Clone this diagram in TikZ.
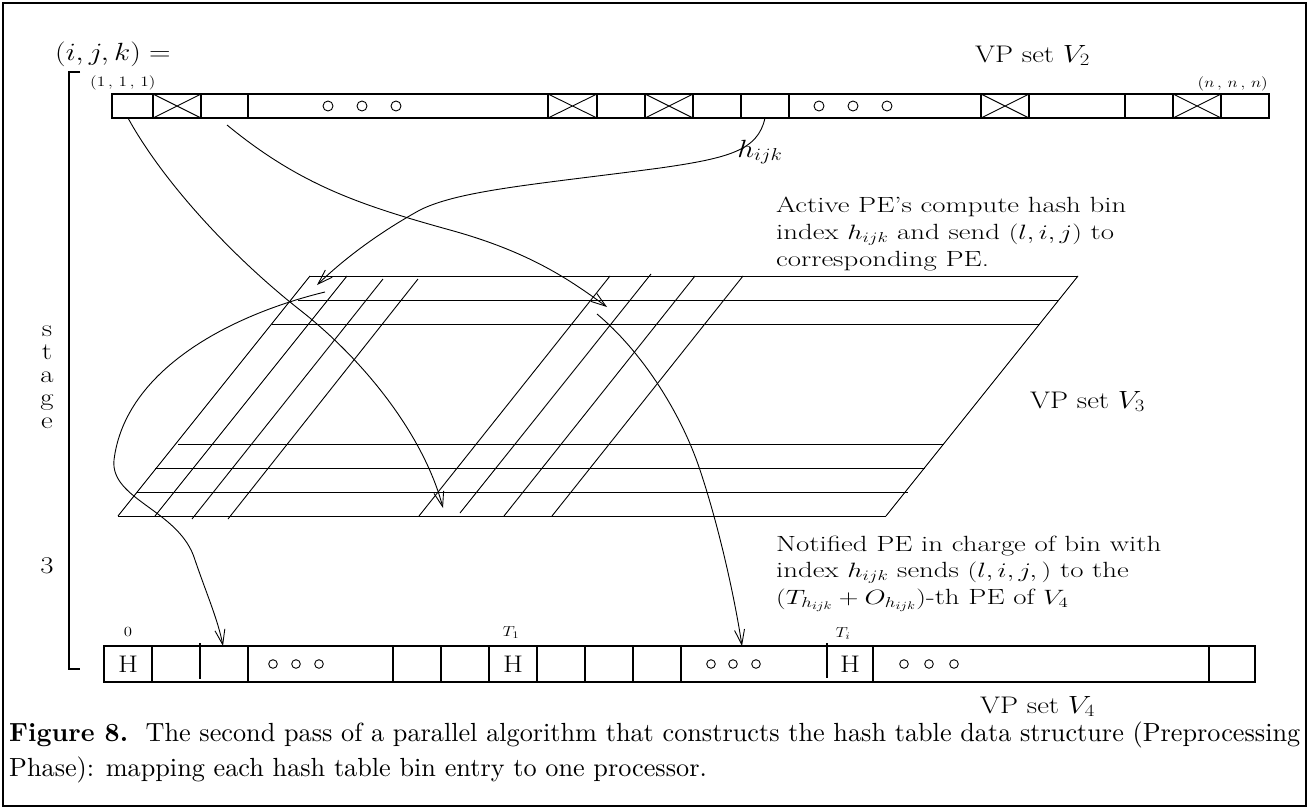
\documentclass[tikz,border=0pt]{standalone}
\usepackage{graphicx}
\usetikzlibrary{arrows.meta}
\newcommand{\wideT}[1]{\scalebox{1.2}[1]{#1}}
\newcommand{\wideB}[1]{\scalebox{1.31}[1]{#1}}
\begin{document}
\begin{tikzpicture}[x=1pt,y=-1pt,
  ln/.style={line width=0.9pt},
  barln/.style={line width=1.2pt},
  arr/.style={line width=0.9pt,-{Straight Barb[length=15pt,width=10pt,line width=0.9pt]}},
  txt/.style={inner sep=0pt,font=\fontsize{24}{25}\selectfont},
  blk/.style={inner sep=0pt,font=\fontsize{22}{25}\selectfont,anchor=base west},
  smalltxt/.style={inner sep=0pt,font=\fontsize{14}{15}\selectfont},
  dot/.style={line width=0.9pt}]
\useasboundingbox (0,0) rectangle (1309,809);
\draw[line width=2.2pt] (3,3) rectangle (1306,806);

% ---------- top labels
\node[txt,anchor=base west] (ijk) at (55,60) {\wideT{$(i,j,k) =$}};
\node[smalltxt,anchor=base west] (first) at (90,86) {\wideT{$(1\,,\,1\,,\,1)$}};
\node[txt,anchor=base west] (vp2) at (975,62) {\wideT{VP set $V_2$}};
\node[smalltxt,anchor=base east] (last) at (1268,87) {\wideT{$(n\,,\,n\,,\,n)$}};

% ---------- stage bracket
\draw[barln] (80,72) -- (69,72) -- (69,669) -- (80,669);
\foreach \l/\y [count=\i] in {s/336,t/359,a/382,g/405,e/428}
  \node[txt,anchor=base] (st\i) at (47,\y) {\wideT{\l}};
\node[txt,anchor=base] (three) at (47,573) {\wideT{3}};

% ---------- top bar (VP set V2)
\draw[barln] (112,94) rectangle (1269,118);
\foreach \x in {153,201,248,548,597,645,693,741,789,981,1029,1125,1173,1221}
  \draw[barln] (\x,94) -- (\x,118);
\foreach \a/\b in {153/201,548/597,645/693,981/1029,1173/1221}
  \draw[ln] (\a,94) -- (\b,118) (\a,118) -- (\b,94);
\foreach \x in {328,362,396,819,853,887}
  \draw[dot] (\x,106) circle (5);
\coordinate (c1) at (128,118);
\coordinate (c3) at (227,125);
\coordinate (ch) at (765,118);
\node[txt,anchor=base] (hlab) at (760,157) {\wideT{$h_{ijk}$}};

% ---------- parallelogram (VP set V3)
\draw[ln] (310,276) -- (1078,276);
\draw[ln] (298,300) -- (1059,300);
\draw[ln] (272,324) -- (1040,324);
\draw[ln] (178,444) -- (944,444);
\draw[ln] (155,468) -- (925,468);
\draw[ln] (137,492) -- (908,492);
\draw[ln] (118,516) -- (886,516);
\draw[ln] (310,276) -- (118,516);
\draw[ln] (1078,276) -- (886,516);
\foreach \t/\ty/\b/\by in {347/276/155/516,383/279/192/519,418/279/228/519,
    610/276/419/516,651/274/460/513,695/276/504/516,743/276/552/516}
  \draw[ln] (\t,\ty) -- (\b,\by);
\node[txt,anchor=base west] (vp3) at (1030,408) {\wideT{VP set $V_3$}};

\node[blk] (a1) at (776,212) {\wideB{Active PE's compute hash bin}};
\node[blk] (a2) at (776,239) {\wideB{index $h_{ijk}$ and send $(l,i,j)$ to}};
\node[blk] (a3) at (776,266) {\wideB{corresponding PE.}};

\coordinate (pA) at (443,508);
\coordinate (pB) at (607,307);
\coordinate (pC) at (317,285);
\coordinate (pD) at (325,292);
\coordinate (pE) at (597,314);

% ---------- bottom bar (VP set V4)
\draw[barln] (104,646) rectangle (1255,682);
\foreach \x in {152,248,393,441,489,537,585,633,681,873,1209}
  \draw[barln] (\x,646) -- (\x,682);
\draw[barln] (200,643) -- (200,679);
\draw[barln] (827,643) -- (827,678);
\foreach \x in {273,296,319,711,733,756,904,929,954}
  \draw[dot] (\x,664) circle (4.3);
\node[txt] (H0) at (128,664) {\wideT{H}};
\node[txt] (H1) at (513,664) {\wideT{H}};
\node[txt] (H2) at (850,664) {\wideT{H}};
\node[smalltxt,anchor=base] (l0) at (128,636) {\wideT{0}};
\node[smalltxt,anchor=base] (l1) at (511,636) {\wideT{$T_1$}};
\node[smalltxt,anchor=base] (l2) at (843,637) {\wideT{$T_i$}};
\coordinate (bA) at (223,646);
\coordinate (bE) at (742,646);
\node[txt,anchor=base west] (vp4) at (980,713) {\wideT{VP set $V_4$}};

\node[blk] (n1) at (776,551) {\wideB{Notified PE in charge of bin with}};
\node[blk] (n2) at (776,577) {\wideB{index $h_{ijk}$ sends $(l,i,j,)$ to the}};
\node[blk] (n3) at (776,604) {\wideB{$(T_{h_{ijk}}+O_{h_{ijk}})$-th PE of $V_4$}};

% ---------- arrows
\draw[arr] (c1) .. controls (162,180) and (230,255) .. (300,310)
                .. controls (370,365) and (425,440) .. (pA);
\draw[arr] (c3) .. controls (300,185) and (360,205) .. (450,230)
                .. controls (530,252) and (570,280) .. (pB);
\draw[arr] (ch) .. controls (758,150) and (730,158) .. (660,168)
                .. controls (540,184) and (460,190) .. (420,210)
                .. controls (380,232) and (345,258) .. (pC);
\draw[arr] (pD) .. controls (230,315) and (125,370) .. (114,460)
                .. controls (110,500) and (180,510) .. (195,560)
                .. controls (207,595) and (218,620) .. (bA);
\draw[arr] (pE) .. controls (640,350) and (680,410) .. (700,470)
                .. controls (720,530) and (735,600) .. (bE);

% ---------- caption
\node[inner sep=0pt,anchor=west] (cap) at (9,752) {\resizebox{1291pt}{!}{\fontsize{10}{13.4}\selectfont
  \begin{tabular}{@{}l@{}}
  \textbf{Figure 8.}\ \ The second pass of a parallel algorithm that constructs the hash table data structure (Preprocessing\\
  Phase): mapping each hash table bin entry to one processor.
  \end{tabular}}};
\end{tikzpicture}
\end{document}
